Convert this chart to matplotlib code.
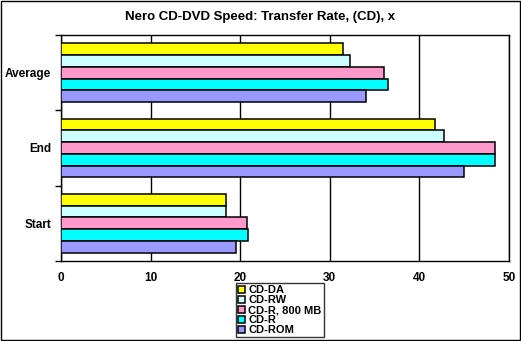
import matplotlib
matplotlib.use("AGG")
import matplotlib.pyplot as plt
import numpy as np

plt.rcParams["font.family"] = ["Liberation Sans", "DejaVu Sans"]
plt.rcParams["font.weight"] = "bold"

# データ
categories = ["Average", "End", "Start"]
series = ["CD-DA", "CD-RW", "CD-R, 800 MB", "CD-R", "CD-ROM"]
colors = ["#FFFF00", "#CCFFFF", "#FF99CC", "#00FFFF", "#9999FF"]
values = {
    "CD-DA": [31.5, 41.7, 18.4],
    "CD-RW": [32.2, 42.7, 18.4],
    "CD-R, 800 MB": [36.0, 48.4, 20.8],
    "CD-R": [36.5, 48.4, 20.9],
    "CD-ROM": [34.0, 45.0, 19.5],
}
x_ticks = [0, 10, 20, 30, 40, 50]

fig = plt.figure(figsize=(5.21, 3.41), dpi=100)
ax = fig.add_axes([61 / 521, 1 - 261 / 341, 448 / 521, 226 / 341])

n = len(series)
group = 0.78
h = group / n
ypos = np.arange(len(categories))
for i, s in enumerate(series):
    y = ypos - group / 2 + h * (i + 0.5)
    ax.barh(y, values[s], height=h, color=colors[i], edgecolor="black",
            linewidth=1.1, label=s, zorder=3)

ax.set_xlim(0, 50)
ax.set_ylim(len(categories) - 0.5, -0.5)
ax.set_xticks(x_ticks)
ax.set_xticklabels([str(t) for t in x_ticks], fontsize=8.5, fontweight="bold")
ax.tick_params(axis="x", length=0, pad=8)
ax.xaxis.grid(True, color="black", linewidth=1.0, zorder=0)

ax.set_yticks(ypos)
ax.set_yticklabels(categories, fontsize=8.5, fontweight="bold")
ax.tick_params(axis="y", length=0, pad=7)
ax.set_yticks(np.arange(len(categories) + 1) - 0.5, minor=True)
ax.tick_params(axis="y", which="minor", length=4, width=1.0, direction="out")
for sp in ax.spines.values():
    sp.set_linewidth(1.0)

fig.text(0.5, 1 - 17 / 341, "Nero CD-DVD Speed: Transfer Rate, (CD), x",
         ha="center", va="center", fontsize=9.5, fontweight="bold")

leg = fig.legend(loc="upper center", bbox_to_anchor=(280 / 521, 1 - 283 / 341),
                 fontsize=8, frameon=True, fancybox=False, edgecolor="black",
                 handlelength=0.6, handleheight=0.6, handletextpad=0.3,
                 labelspacing=0.0, borderpad=0.2, borderaxespad=0)
leg.get_frame().set_linewidth(1.0)
for t in leg.get_texts():
    t.set_fontweight("bold")

# 外枠
fig.patches.append(plt.Rectangle((0.001, 0.002), 0.997, 0.996, transform=fig.transFigure,
                                 fill=False, edgecolor="black", linewidth=1.0))

fig.savefig("out.png", dpi=100)
